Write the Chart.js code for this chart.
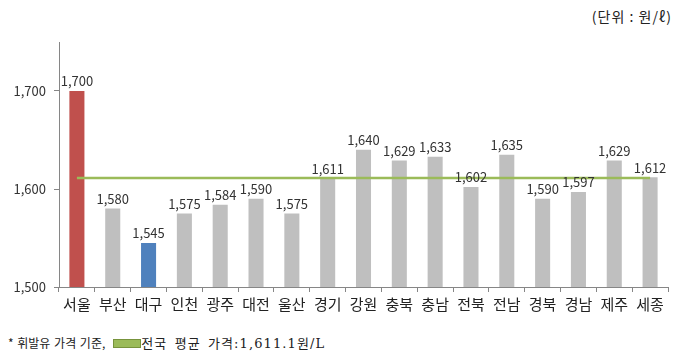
<!DOCTYPE html>
<html>
<head>
<meta charset="utf-8">
<script src="https://cdn.jsdelivr.net/npm/chart.js@4.4.0/dist/chart.umd.min.js"></script>
<style>
  body { margin: 0; background: #fff; }
  #wrap { position: relative; width: 682px; height: 361px; overflow: hidden; }
  #unit { position: absolute; right: 10px; top: 6px; font: 14px "Noto Sans CJK KR", sans-serif; letter-spacing: 1px; color: #222; }
  #note { position: absolute; left: 8px; top: 333px; font: 13px "Noto Sans CJK KR", sans-serif; color: #222; white-space: nowrap; }
  #note .a { font-size: 12px; word-spacing: 1px; }
  #note .b { font-family: "DejaVu Serif", "Noto Sans CJK KR", serif; font-size: 13px; letter-spacing: 1.1px; word-spacing: 2px; }
  #note .sw { display: inline-block; width: 26px; height: 7px; background: #9bbb59; border: 1px solid #77933c; vertical-align: middle; margin: 0 0 2px 8px; }
  canvas { position: absolute; left: 0; top: 0; }
</style>
</head>
<body>
<div id="wrap">
  <div id="unit">(단위 : 원/ℓ)</div>
  <canvas id="priceChart" width="682" height="320"></canvas>
  <div id="note"><span class="a">* 휘발유 가격 기준,</span><span class="sw"></span><span class="b">전국 평균 가격:1,611.1원/L</span></div>
</div>
<script>
// region labels and gasoline prices (won per litre)
const regions = ["서울", "부산", "대구", "인천", "광주", "대전", "울산", "경기", "강원", "충북", "충남", "전북", "전남", "경북", "경남", "제주", "세종"];
const prices = [1700, 1580, 1545, 1575, 1584, 1590, 1575, 1611, 1640, 1629, 1633, 1602, 1635, 1590, 1597, 1629, 1612];
const avgPrice = 1611.1;
const barColors = [
    "#c0504d", "#bfbfbf", "#4f81bd", "#bfbfbf", "#bfbfbf", "#bfbfbf", "#bfbfbf", "#bfbfbf", "#bfbfbf",
    "#bfbfbf", "#bfbfbf", "#bfbfbf", "#bfbfbf", "#bfbfbf", "#bfbfbf", "#bfbfbf", "#bfbfbf"
];

// value labels above the bars
const barLabels = {
    id: "barLabels",
    afterDatasetsDraw(chart) {
        const ctx = chart.ctx;
        const meta = chart.getDatasetMeta(1);
        ctx.save();
        ctx.font = "13px 'Noto Sans CJK KR', sans-serif";
        ctx.fillStyle = "#333";
        ctx.textAlign = "center";
        ctx.textBaseline = "bottom";
        meta.data.forEach((bar, i) => {
            ctx.fillText(prices[i].toLocaleString("en-US"), bar.x, bar.y - 3);
        });
        ctx.restore();
    },
};

const data = {
    labels: regions,
    datasets: [
        {
            type: "line",
            label: "전국 평균 가격",
            data: regions.map(() => avgPrice),
            borderColor: "#9bbb59",
            borderWidth: 2.5,
            pointRadius: 0,
            order: 0,
        },
        {
            type: "bar",
            label: "휘발유 가격",
            data: prices,
            backgroundColor: barColors,
            categoryPercentage: 1.0,
            barPercentage: 0.42,
            order: 1,
        },
    ],
};

const config = {
    data: data,
    options: {
        responsive: false,
        animation: false,
        layout: { padding: { top: 42, right: 14, left: 0, bottom: 0 } },
        scales: {
            x: {
                afterFit: (scale) => { scale.height = 33; },
                grid: {
                    offset: true,
                    drawOnChartArea: false,
                    tickLength: 5,
                    color: "#868686",
                },
                border: { color: "#868686" },
                ticks: {
                    color: "#222",
                    font: { size: 15, family: "'Noto Sans CJK KR', sans-serif" },
                    padding: 3,
                },
            },
            y: {
                min: 1500,
                max: 1750,
                afterFit: (scale) => { scale.width = 59; },
                afterBuildTicks: (scale) => {
                    scale.ticks = scale.ticks.filter((t) => t.value % 100 === 0);
                },
                grid: {
                    drawOnChartArea: false,
                    tickLength: 5,
                    color: "#868686",
                },
                border: { color: "#868686" },
                ticks: {
                    stepSize: 100,
                    color: "#333",
                    font: { size: 13, family: "'Noto Sans CJK KR', sans-serif" },
                    padding: 8,
                    callback: (value) => value.toLocaleString("en-US"),
                },
            },
        },
        plugins: {
            legend: { display: false },
            tooltip: { enabled: false },
        },
    },
    plugins: [barLabels],
};

const priceChart = new Chart(document.getElementById("priceChart").getContext("2d"), config);
</script>
</body>
</html>
